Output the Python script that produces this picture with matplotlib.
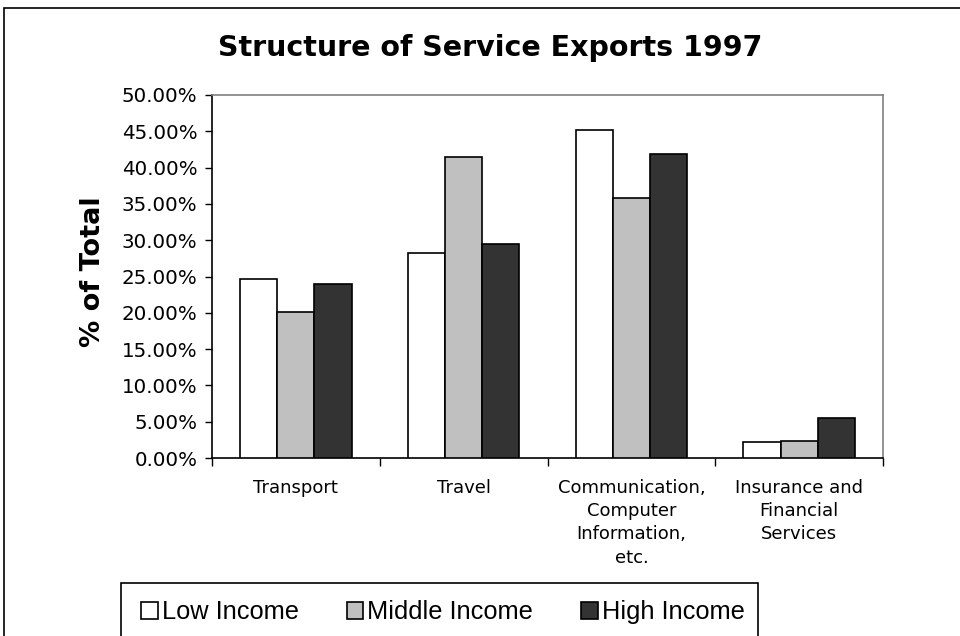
import matplotlib
matplotlib.use("Agg")
import matplotlib.pyplot as plt
import numpy as np
from matplotlib.patches import Rectangle
from matplotlib.ticker import FuncFormatter, FixedLocator
from matplotlib import font_manager

categories = ["Transport", "Travel", "Communication,\nComputer\nInformation,\netc.",
              "Insurance and\nFinancial\nServices"]
series_names = ["Low Income", "Middle Income", "High Income"]
low_income = [24.6, 28.2, 45.2, 2.2]
middle_income = [20.1, 41.4, 35.8, 2.4]
high_income = [24.0, 29.5, 41.9, 5.5]
yticks = [0, 5, 10, 15, 20, 25, 30, 35, 40, 45, 50]
colors = ["#FFFFFF", "#C0C0C0", "#333333"]

plt.rcParams['font.family'] = ['DejaVu Sans']


def have_font(name):
    try:
        font_manager.findfont(font_manager.FontProperties(family=name), fallback_to_default=False)
        return True
    except Exception:
        return False


if have_font('Liberation Sans Narrow'):
    leg_family, leg_size, colsp = 'Liberation Sans Narrow', 22, 2.0
else:
    leg_family, leg_size, colsp = 'Liberation Sans', 18.3, 1.9

fig = plt.figure(figsize=(9.6, 6.36), dpi=100)

# outer chart border
fig.patches.append(Rectangle((4/960, -0.2), 1.3, 1.2 - 8/636, transform=fig.transFigure,
                             fill=False, edgecolor="black", linewidth=1.2, zorder=0))

ax = fig.add_axes([212/960, 1 - 458/636, 671/960, 363/636])
x = np.arange(len(categories))
w = 0.222
for i, (vals, c, name) in enumerate(zip([low_income, middle_income, high_income], colors, series_names)):
    ax.bar(x + (i - 1) * w, vals, width=w, color=c, edgecolor="black", linewidth=1.2,
           label=name, zorder=3)

ax.set_xlim(-0.5, 3.5)
ax.set_ylim(0, 50)
ax.yaxis.set_major_locator(FixedLocator(yticks))
ax.yaxis.set_major_formatter(FuncFormatter(lambda v, p: f"{v:.2f}%"))
ax.tick_params(axis='y', direction='out', length=5, width=1, pad=5.5, labelsize=14.3)

ax.xaxis.set_major_locator(FixedLocator(np.arange(-0.5, 3.6, 1.0)))
ax.xaxis.set_major_formatter(FuncFormatter(lambda v, p: ""))
ax.set_xticks(x, minor=True)
ax.set_xticklabels(categories, minor=True, fontsize=13, linespacing=1.38, va='top')
ax.tick_params(axis='x', which='major', direction='out', length=6, width=1)
ax.tick_params(axis='x', which='minor', length=0, pad=15)

for s in ['top', 'right']:
    ax.spines[s].set_color('#808080')
    ax.spines[s].set_linewidth(1.2)
for s in ['left', 'bottom']:
    ax.spines[s].set_color('black')
    ax.spines[s].set_linewidth(1.2)

ax.set_ylabel("% of Total", fontsize=19.5, fontweight='bold')
ax.yaxis.set_label_coords((106 - 212) / 671, (458 - 272) / 363)
fig.text(490/960, 1 - 48/636, "Structure of Service Exports 1997", ha='center', va='center',
         fontsize=20.5, fontweight='bold')

# legend box
fig.patches.append(Rectangle((121/960, -0.1), (758 - 121)/960, 0.1 + 1 - 583/636,
                             transform=fig.transFigure, fill=True, facecolor='white',
                             edgecolor='black', linewidth=1.2, zorder=1))
handles, labels = ax.get_legend_handles_labels()
leg = fig.legend(handles, labels, loc='center', bbox_to_anchor=(443/960, 1 - 612/636),
                 ncol=3, frameon=False, prop={'family': leg_family, 'size': leg_size},
                 handlelength=0.65, handleheight=0.65, handletextpad=0.15, columnspacing=colsp)

fig.savefig("out.png", dpi=100)
